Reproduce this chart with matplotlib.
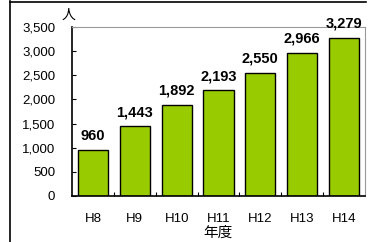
import matplotlib
matplotlib.use("Agg")
import matplotlib.pyplot as plt
from matplotlib.lines import Line2D
import numpy as np

categories = ["H8", "H9", "H10", "H11", "H12", "H13", "H14"]
values = [960, 1443, 1892, 2193, 2550, 2966, 3279]
yticks = [0, 500, 1000, 1500, 2000, 2500, 3000, 3500]

W, H = 371, 242
fig = plt.figure(figsize=(W / 100, H / 100), dpi=100)
ax = fig.add_axes([72 / W, 1 - 196 / H, (365 - 72) / W, (196 - 27) / H])

x = np.arange(len(categories))
ax.bar(x, values, width=0.72, color="#99CC00", edgecolor="black", linewidth=1.0, zorder=2)

for xi, v in zip(x, values):
    ax.annotate(f"{v:,}", (xi, v), xytext=(0, 5), textcoords="offset points",
                ha="center", va="bottom", fontsize=10.5, fontweight="bold",
                family="Liberation Sans")

ax.set_xlim(-0.5, len(categories) - 0.5)
ax.set_ylim(0, 3500)
ax.set_yticks(yticks)
ax.set_yticklabels([f"{t:,}" for t in yticks], family="Liberation Sans", fontsize=9.5)
ax.set_xticks(x)
ax.set_xticklabels(categories, family="Liberation Sans", fontsize=9.5)
ax.set_xticks(np.arange(0.5, len(categories) - 0.5, 1), minor=True)
ax.tick_params(axis="x", which="major", length=0, pad=12.5)
ax.tick_params(axis="x", which="minor", direction="in", length=3, width=0.8)
ax.tick_params(axis="y", which="major", direction="in", length=3, width=0.8, pad=12)

for s in ["left", "bottom"]:
    ax.spines[s].set_color("black")
    ax.spines[s].set_linewidth(1.2)
for s in ["top", "right"]:
    ax.spines[s].set_color("#999999")
    ax.spines[s].set_linewidth(0.8)

fig.text(68 / W, 1 - 15 / H, "人", ha="center", va="center", fontsize=10,
         family=["Noto Sans CJK JP", "DejaVu Sans"])
fig.text(218 / W, 1 - 233 / H, "年度", ha="center", va="center", fontsize=10.5,
         family=["Noto Sans CJK JP", "DejaVu Sans"])

fig.add_artist(Line2D([10 / W, 10 / W], [0, 1 - 1 / H], color="black", linewidth=1.2,
                      transform=fig.transFigure))
fig.add_artist(Line2D([10 / W, 366 / W], [1 - 1.5 / H, 1 - 1.5 / H], color="black",
                      linewidth=1.2, transform=fig.transFigure))

fig.savefig("out.png", dpi=100)
